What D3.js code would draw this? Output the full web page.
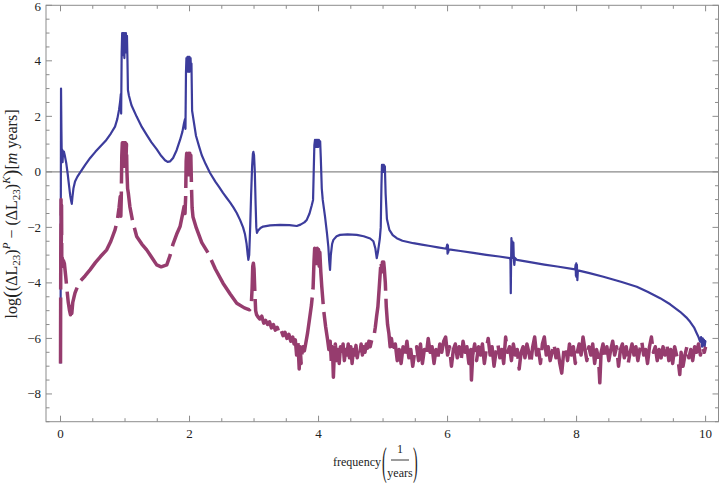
<!DOCTYPE html>
<html><head><meta charset="utf-8">
<script src="https://cdn.jsdelivr.net/npm/d3@7"></script>
<style>body{margin:0;background:#fff}svg{display:block}svg text{font-family:"Liberation Serif","Times New Roman",serif}</style>
</head><body>
<svg id="c" width="719" height="483"></svg>
<script>
// ---- data ----
const xTickLabels = [0, 2, 4, 6, 8, 10];
const yTickLabels = [-8, -6, -4, -2, 0, 2, 4, 6];
const xMinor = [0,0.5,1,1.5,2,2.5,3,3.5,4,4.5,5,5.5,6,6.5,7,7.5,8,8.5,9,9.5,10];
const yMinor = [-9,-8.5,-8,-7.5,-7,-6.5,-6,-5.5,-5,-4.5,-4,-3.5,-3,-2.5,-2,-1.5,-1,-0.5,0,0.5,1,1.5,2,2.5,3,3.5,4,4.5,5,5.5,6];

const blueSeries = [
[0.000,-6.9],[0.004,-2],[0.008,3.0],[0.014,1.5],[0.020,0.4],[0.026,0.8],[0.032,0.35],[0.040,0.75],[0.054,0.72],[0.07,0.55],[0.09,0.3],[0.11,-0.05],[0.13,-0.45],[0.15,-0.85],[0.165,-1.05],[0.175,-1.15],[0.185,-0.9],[0.20,-0.6],[0.225,-0.35],[0.26,-0.18],[0.30,-0.04],[0.38,0.24],[0.46,0.5],[0.54,0.72],[0.62,0.92],[0.70,1.12],[0.78,1.38],[0.845,1.63],[0.88,1.9],[0.907,2.23],[0.925,2.55],[0.935,2.8],[0.94,2.1],[0.948,4.3],[0.956,5.0],[0.962,4.2],[0.968,5.0],[0.975,4.4],[0.982,5.0],[0.99,4.1],[0.998,5.0],[1.006,4.3],[1.014,5.0],[1.022,4.5],[1.03,4.9],[1.038,4.0],[1.045,2.95],[1.06,2.75],[1.10,2.4],[1.18,1.99],[1.26,1.62],[1.336,1.33],[1.41,1.06],[1.49,0.82],[1.56,0.58],[1.62,0.42],[1.66,0.36],[1.70,0.38],[1.745,0.5],[1.80,0.78],[1.853,1.15],[1.89,1.45],[1.915,1.76],[1.93,1.9],[1.937,1.55],[1.945,3.6],[1.952,4.1],[1.96,3.6],[1.968,4.14],[1.976,3.7],[1.984,4.14],[1.992,3.6],[2.0,4.14],[2.008,3.7],[2.016,4.1],[2.024,3.6],[2.03,3.9],[2.04,2.2],[2.054,1.99],[2.10,1.3],[2.15,0.9],[2.19,0.6],[2.25,0.28],[2.318,-0.04],[2.40,-0.35],[2.46,-0.55],[2.519,-0.76],[2.58,-0.95],[2.628,-1.1],[2.68,-1.28],[2.732,-1.48],[2.783,-1.73],[2.83,-2.0],[2.86,-2.25],[2.885,-2.6],[2.90,-2.95],[2.912,-3.17],[2.925,-3.0],[2.94,-2.0],[2.955,-0.8],[2.97,0.2],[2.982,0.65],[2.99,0.72],[3.0,0.6],[3.012,0.0],[3.025,-1.2],[3.035,-2.0],[3.045,-2.2],[3.06,-2.12],[3.1,-2.02],[3.14,-1.97],[3.25,-1.93],[3.403,-1.91],[3.55,-1.92],[3.662,-1.95],[3.72,-1.9],[3.78,-1.82],[3.817,-1.73],[3.86,-1.5],[3.895,-1.2],[3.915,-1.01],[3.925,0.0],[3.935,0.95],[3.945,1.15],[3.955,0.9],[3.965,1.15],[3.975,0.9],[3.985,1.15],[3.995,0.9],[4.005,1.15],[4.015,0.95],[4.025,1.1],[4.035,0.5],[4.05,-0.6],[4.065,-1.01],[4.10,-1.6],[4.13,-2.2],[4.152,-2.7],[4.165,-3.2],[4.178,-3.53],[4.19,-3.0],[4.21,-2.6],[4.23,-2.45],[4.28,-2.32],[4.333,-2.27],[4.45,-2.25],[4.592,-2.27],[4.70,-2.32],[4.80,-2.4],[4.85,-2.5],[4.88,-2.75],[4.902,-3.11],[4.92,-2.9],[4.95,-2.4],[4.964,-2.0],[4.975,-0.5],[4.983,0.25],[4.99,0.0],[4.997,0.25],[5.005,0.0],[5.012,0.25],[5.02,0.05],[5.028,0.2],[5.04,-0.8],[5.06,-1.7],[5.098,-2.09],[5.15,-2.28],[5.212,-2.39],[5.30,-2.48],[5.47,-2.57],[5.60,-2.62],[5.729,-2.67],[5.85,-2.72],[5.98,-2.77],[5.995,-2.62],[6.0,-2.95],[6.005,-2.65],[6.01,-2.9],[6.02,-2.79],[6.2,-2.85],[6.4,-2.92],[6.6,-2.99],[6.8,-3.05],[6.969,-3.11],[6.975,-3.2],[6.98,-4.37],[6.985,-3.2],[6.99,-2.39],[6.998,-3.0],[7.005,-2.5],[7.012,-3.1],[7.02,-2.55],[7.028,-3.2],[7.035,-3.35],[7.045,-3.1],[7.073,-3.17],[7.3,-3.26],[7.5,-3.34],[7.7,-3.41],[7.977,-3.51],[7.985,-3.35],[7.99,-3.75],[7.995,-3.3],[8.0,-3.8],[8.005,-3.35],[8.012,-3.9],[8.02,-3.55],[8.2,-3.65],[8.416,-3.78],[8.7,-3.97],[8.933,-4.14],[9.1,-4.32],[9.295,-4.55],[9.45,-4.77],[9.605,-5.04],[9.70,-5.24],[9.76,-5.4],[9.82,-5.6],[9.864,-5.82],[9.89,-5.95],[9.915,-6.12],[9.93,-5.95],[9.945,-6.3],[9.955,-6.0],[9.965,-6.25],[9.975,-6.05],[9.985,-6.3],[9.995,-6.1],[10.0,-6.15]
];

const purpleSeries = [
[0.0,-6.9],[0.004,-3.0],[0.008,-1.0],[0.012,-2.8],[0.016,-1.2],[0.02,-3.4],[0.028,-3.1],[0.036,-3.35],[0.045,-3.2],[0.06,-3.3],[0.08,-3.75],[0.10,-4.25],[0.12,-4.7],[0.14,-5.0],[0.155,-5.15],[0.16,-4.85],[0.165,-5.1],[0.175,-5.1],[0.19,-4.7],[0.21,-4.5],[0.225,-4.36],[0.26,-4.15],[0.30,-3.95],[0.38,-3.75],[0.457,-3.53],[0.54,-3.27],[0.62,-3.05],[0.716,-2.81],[0.78,-2.5],[0.845,-2.09],[0.88,-1.75],[0.907,-1.3],[0.925,-0.89],[0.935,-1.6],[0.942,-0.9],[0.95,0.6],[0.958,1.05],[0.966,0.3],[0.974,1.05],[0.982,0.2],[0.99,1.05],[0.998,0.3],[1.006,1.05],[1.014,0.3],[1.022,1.0],[1.03,0.0],[1.04,-0.6],[1.051,-0.76],[1.075,-1.25],[1.12,-1.8],[1.181,-2.33],[1.26,-2.6],[1.336,-2.81],[1.42,-3.1],[1.491,-3.35],[1.56,-3.42],[1.647,-3.35],[1.70,-3.0],[1.744,-2.6],[1.80,-2.25],[1.853,-1.97],[1.89,-1.55],[1.915,-1.25],[1.93,-1.5],[1.94,-0.9],[1.948,0.4],[1.956,0.67],[1.964,0.0],[1.972,0.67],[1.98,-0.1],[1.988,0.67],[1.996,0.0],[2.004,0.67],[2.012,0.0],[2.02,0.6],[2.03,-0.5],[2.04,-1.3],[2.054,-1.63],[2.105,-2.02],[2.19,-2.55],[2.29,-2.93],[2.40,-3.5],[2.519,-4.01],[2.63,-4.4],[2.732,-4.73],[2.85,-4.9],[2.93,-4.97],[2.955,-4.9],[2.97,-4.2],[2.98,-3.4],[2.99,-3.29],[3.0,-3.5],[3.012,-4.3],[3.025,-5.0],[3.04,-5.15],[3.06,-5.22],
[3.09,-5.3],[3.12,-5.2],[3.15,-5.45],[3.18,-5.35],[3.21,-5.5],[3.24,-5.4],[3.27,-5.62],[3.30,-5.5],[3.33,-5.7],[3.36,-5.6],[3.39,-5.82],[3.42,-5.7],[3.45,-5.9],[3.48,-5.78],[3.51,-6.0],[3.54,-5.85],[3.57,-6.1],[3.60,-5.95],[3.62,-6.2],[3.64,-6.05],[3.66,-6.6],[3.68,-6.1],[3.70,-7.1],[3.715,-6.3],[3.73,-6.9],[3.745,-6.5],[3.76,-6.3],[3.78,-6.45],[3.80,-6.2],[3.83,-5.8],[3.86,-5.3],[3.89,-4.8],[3.915,-4.2],[3.93,-3.2],[3.94,-2.75],[3.95,-3.3],[3.96,-2.75],[3.97,-3.3],[3.98,-2.75],[3.99,-3.3],[4.0,-2.8],[4.01,-3.4],[4.02,-2.9],[4.035,-3.6],[4.05,-4.13],[4.08,-5.0],[4.11,-5.58],[4.14,-6.05],[4.16,-6.4],[4.18,-6.1],[4.2,-6.9],[4.215,-6.3],[4.23,-7.4],[4.245,-6.5],[4.26,-6.2],[4.28,-6.8],[4.30,-6.4],[4.32,-6.9],[4.34,-6.3],[4.36,-6.6],[4.38,-6.2],[4.40,-6.8],[4.42,-6.4],[4.44,-6.6],[4.46,-6.2],[4.48,-6.7],[4.50,-6.3],[4.52,-6.9],[4.54,-6.4],[4.56,-6.6],[4.58,-6.25],[4.60,-6.7],[4.62,-6.4],[4.64,-6.55],[4.66,-6.2],[4.68,-6.6],[4.70,-6.3],[4.72,-6.5],[4.74,-6.2],[4.76,-6.35],[4.78,-6.1],[4.80,-6.3],[4.83,-6.0],[4.86,-5.9],[4.88,-5.6],[4.90,-5.2],[4.92,-4.86],[4.94,-4.2],[4.96,-3.5],[4.97,-3.23],[4.98,-3.6],[4.99,-3.25],[5.0,-3.6],[5.01,-3.25],[5.02,-3.5],[5.035,-4.0],[5.05,-4.86],[5.07,-5.5],[5.09,-5.81],[5.11,-6.3],[5.13,-6.0],
[5.16,-6.5],[5.19,-6.2],[5.22,-6.8],[5.25,-6.4],[5.28,-6.9],[5.31,-6.3],[5.34,-6.6],[5.37,-6.1],[5.40,-6.7],[5.43,-6.4],[5.46,-7.0],[5.49,-6.5],[5.52,-6.3],[5.55,-6.8],[5.58,-6.2],[5.61,-6.9],[5.64,-6.4],[5.67,-6.6],[5.70,-6.0],[5.73,-6.5],[5.76,-6.3],[5.79,-6.9],[5.82,-6.4],[5.85,-6.7],[5.88,-6.2],[5.91,-6.5],[5.94,-6.1],[5.97,-5.95],[6.00,-6.6],[6.03,-6.3],[6.06,-7.0],[6.09,-6.4],[6.12,-6.2],[6.15,-6.7],[6.18,-6.3],[6.21,-6.8],[6.24,-6.1],[6.27,-6.5],[6.30,-6.3],[6.33,-6.9],[6.36,-6.4],[6.37,-7.5],[6.39,-6.6],[6.42,-6.2],[6.45,-6.8],[6.48,-6.3],[6.51,-6.6],[6.54,-6.2],[6.57,-6.9],[6.60,-6.4],[6.63,-6.0],[6.66,-6.6],[6.69,-6.3],[6.72,-7.0],[6.75,-6.5],[6.78,-6.2],[6.81,-6.7],[6.84,-6.4],[6.87,-6.9],[6.90,-5.95],[6.93,-6.5],[6.96,-6.3],[6.99,-6.8],[7.02,-6.2],[7.05,-6.6],[7.08,-6.4],[7.11,-7.1],[7.14,-6.5],[7.17,-6.3],[7.20,-6.7],[7.23,-6.2],[7.26,-6.5],[7.29,-6.9],[7.32,-6.3],[7.35,-5.95],[7.38,-6.6],[7.41,-6.4],[7.44,-6.9],[7.47,-6.2],[7.50,-5.95],[7.53,-6.6],[7.56,-6.3],[7.59,-6.8],[7.62,-6.5],[7.65,-6.2],[7.68,-6.7],[7.71,-6.4],[7.74,-6.9],[7.77,-7.25],[7.80,-6.5],[7.83,-6.3],[7.86,-6.8],[7.89,-6.2],[7.92,-6.6],[7.95,-6.3],[7.98,-6.9],[8.01,-6.5],[8.04,-6.2],[8.07,-6.6],[8.10,-5.95],[8.13,-6.4],[8.16,-6.8],[8.19,-6.3],[8.22,-6.6],[8.25,-6.2],[8.28,-6.9],[8.31,-6.4],[8.34,-6.7],[8.36,-7.6],[8.38,-6.5],[8.41,-6.2],[8.44,-6.7],[8.47,-6.3],[8.50,-6.8],[8.53,-6.4],[8.56,-6.1],[8.59,-6.6],[8.62,-6.3],[8.65,-7.0],[8.68,-6.4],[8.71,-6.2],[8.74,-6.7],[8.77,-6.3],[8.80,-6.9],[8.83,-6.5],[8.86,-6.2],[8.89,-6.6],[8.92,-6.3],[8.95,-6.8],[8.98,-6.4],[9.01,-6.1],[9.04,-6.6],[9.07,-6.4],[9.10,-6.9],[9.13,-6.3],[9.16,-5.95],[9.19,-6.5],[9.22,-6.3],[9.25,-6.8],[9.28,-6.4],[9.31,-6.7],[9.34,-6.3],[9.37,-6.6],[9.40,-6.2],[9.43,-6.8],[9.46,-6.4],[9.49,-6.9],[9.52,-6.3],[9.55,-6.6],[9.58,-6.9],[9.60,-7.3],[9.62,-6.5],[9.65,-7.0],[9.68,-6.6],[9.71,-6.3],[9.74,-6.7],[9.77,-6.4],[9.80,-6.8],[9.83,-6.3],[9.86,-6.5],[9.89,-6.2],[9.92,-6.6],[9.95,-6.3],[9.98,-6.5],[10.0,-6.3]
];

// ---- layout ----
const L = 46, R = 718.5, T = 5.3, B = 421.7;
const svg = d3.select("#c");
const x = d3.scaleLinear().domain([-0.225, 10.2]).range([L, R]);
const y = d3.scaleLinear().domain([-9, 6]).range([B, T]);
const GRAY = "#8c8c8c";
const INK = "#222";

// zero axis line
svg.append("line").attr("x1", L).attr("x2", R).attr("y1", y(0)).attr("y2", y(0))
  .attr("stroke", "#8a8a8a").attr("stroke-width", 1.2);

// data lines
const line = d3.line().x(d => x(d[0])).y(d => y(d[1]));
svg.append("path").datum(blueSeries).attr("d", line)
  .attr("fill", "none").attr("stroke", "#3c3c9c").attr("stroke-width", 2.2)
  .attr("stroke-linejoin", "round");
svg.append("path").datum(purpleSeries).attr("d", line)
  .attr("fill", "none").attr("stroke", "#963c6e").attr("stroke-width", 3.5)
  .attr("stroke-linejoin", "round").attr("stroke-dasharray", "66,8");

// frame
svg.append("rect").attr("x", L).attr("y", T).attr("width", R - L).attr("height", B - T)
  .attr("stroke", GRAY).attr("stroke-width", 1).attr("fill", "none");

// ticks
const tg = svg.append("g").attr("stroke", GRAY).attr("stroke-width", 1);
xMinor.forEach(v => {
  const len = xTickLabels.includes(v) ? 6 : 3.5;
  tg.append("line").attr("x1", x(v)).attr("x2", x(v)).attr("y1", B).attr("y2", B - len);
  tg.append("line").attr("x1", x(v)).attr("x2", x(v)).attr("y1", T).attr("y2", T + len);
});
yMinor.forEach(v => {
  const len = yTickLabels.includes(v) ? 6 : 3.5;
  tg.append("line").attr("y1", y(v)).attr("y2", y(v)).attr("x1", L).attr("x2", L + len);
  tg.append("line").attr("y1", y(v)).attr("y2", y(v)).attr("x1", R).attr("x2", R - len);
});

// tick labels
svg.append("g").selectAll("text").data(xTickLabels).join("text")
  .attr("x", d => x(d)).attr("y", 438).attr("text-anchor", "middle")
  .attr("font-size", 13).attr("fill", INK)
  .text(d => d);
svg.append("g").selectAll("text").data(yTickLabels).join("text")
  .attr("x", 41).attr("y", d => Math.max(y(d) + 4.5, 11)).attr("text-anchor", "end")
  .attr("font-size", 13).attr("fill", INK)
  .text(d => d < 0 ? "\u2212" + Math.abs(d) : d);

// x label
const xl = svg.append("g").attr("fill", INK);
xl.append("text").attr("x", 381).attr("y", 466).attr("text-anchor", "end").attr("font-size", 12).text("frequency");
xl.append("text").attr("transform", "translate(382,475) scale(1,2.9)").attr("font-size", 14).text("(");
xl.append("text").attr("x", 400).attr("y", 453).attr("text-anchor", "middle").attr("font-size", 12).text("1");
xl.append("line").attr("x1", 391).attr("x2", 409).attr("y1", 460).attr("y2", 460).attr("stroke", INK).attr("stroke-width", 0.9);
xl.append("text").attr("x", 400).attr("y", 477).attr("text-anchor", "middle").attr("font-size", 12).text("years");
xl.append("text").attr("transform", "translate(413,475) scale(1,2.9)").attr("font-size", 14).text(")");

// y label
const yl = svg.append("text").attr("transform", "translate(17,214) rotate(-90)")
  .attr("text-anchor", "middle").attr("font-size", 16).attr("fill", INK);
yl.append("tspan").text("log");
yl.append("tspan").attr("font-size", 21).attr("dy", 1).text("(");
yl.append("tspan").attr("dy", -1).text("(\u0394L");
yl.append("tspan").attr("font-size", 11).attr("dy", 3).text("23");
yl.append("tspan").attr("dy", -3).text(")");
yl.append("tspan").attr("font-size", 11).attr("font-style", "italic").attr("dy", -7).text("P");
yl.append("tspan").attr("dy", 7).text(" \u2212 (\u0394L");
yl.append("tspan").attr("font-size", 11).attr("dy", 3).text("23");
yl.append("tspan").attr("dy", -3).text(")");
yl.append("tspan").attr("font-size", 11).attr("font-style", "italic").attr("dy", -7).text("K");
yl.append("tspan").attr("font-size", 21).attr("dy", 8).text(")");
yl.append("tspan").attr("dy", -1).text("[");
yl.append("tspan").attr("font-style", "italic").text("m");
yl.append("tspan").text(" years]");
</script>
</body></html>
